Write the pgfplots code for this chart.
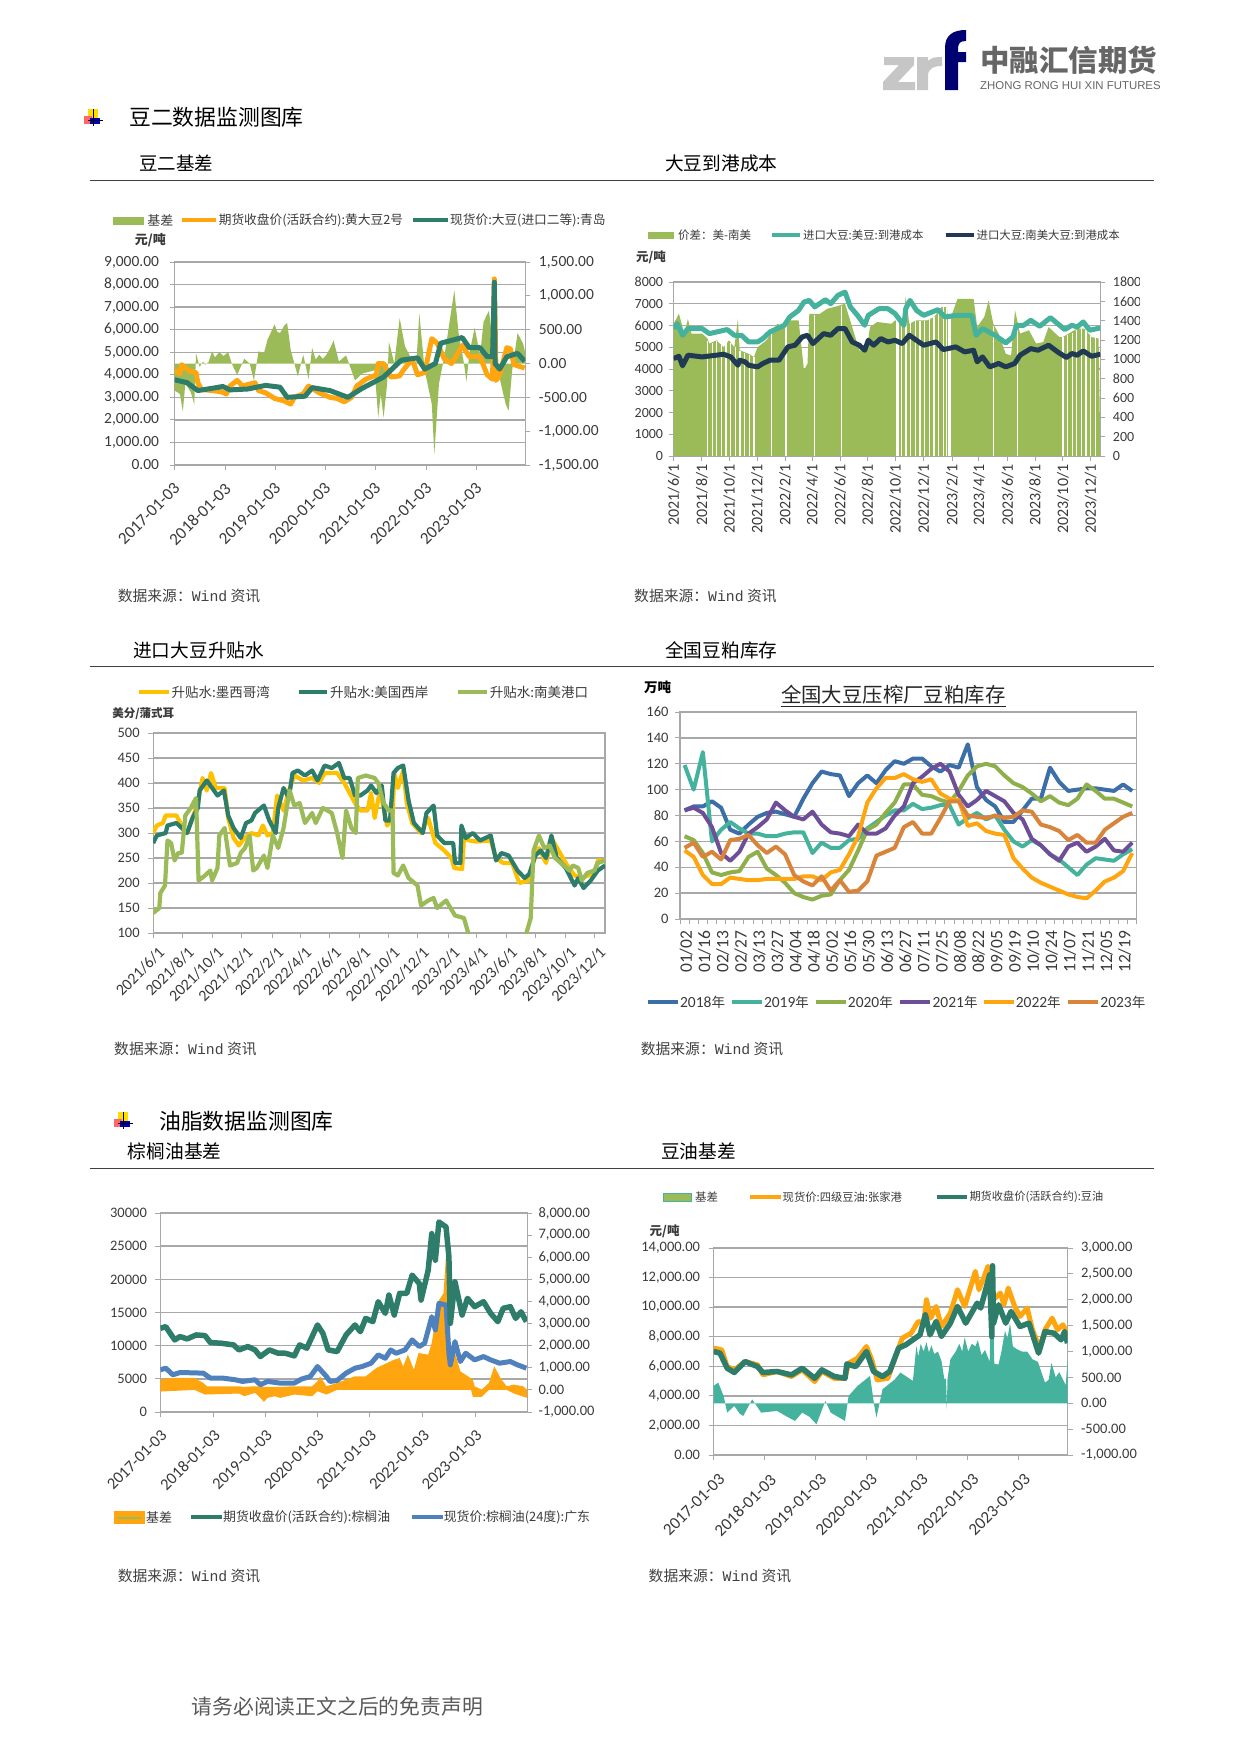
\documentclass[border=0pt]{standalone}
\usepackage{fontspec}
\usepackage{pgfplots}
\pgfplotsset{compat=1.18}
\setmainfont{Noto Sans CJK SC}
\newfontfamily\lat{Carlito}
\newfontfamily\mono{Liberation Mono}
\newfontfamily\arial{Liberation Sans}
\newcommand\fs[1]{\fontsize{#1}{#1}\selectfont}
\definecolor{gridc}{HTML}{A8A8A8}
\definecolor{txt}{HTML}{3A3A3A}
\definecolor{olive}{HTML}{9BBB59}
\definecolor{org}{HTML}{FFA50F}
\definecolor{teal2}{HTML}{2E7D6B}
\definecolor{mint}{HTML}{45B29D}
\definecolor{navy2}{HTML}{1F3A52}
\definecolor{amber}{HTML}{FFC000}
\definecolor{blue2}{HTML}{4F81BD}
\definecolor{sblue}{HTML}{3C6EA8}
\definecolor{purp}{HTML}{6F4E98}
\definecolor{brown2}{HTML}{D9843B}
\definecolor{olive2}{HTML}{8FAF4B}
\pgfplotsset{
 base/.style={scale only axis,anchor=north west,clip=true,tick align=outside,
  major tick length=5pt,minor tick length=5pt,
  axis line style={draw=gridc,line width=1.2pt},
  every tick/.append style={draw=gridc,line width=1pt},
  tick label style={text=txt},
  /pgf/number format/1000 sep={},/pgf/number format/assume math mode=true,
  scaled ticks=false},
 gridded/.style={base,ymajorgrids,grid style={draw=gridc,line width=1.4pt},xtick pos=lower,ytick pos=left},
 rightax/.style={base,hide x axis,axis y line*=right},
 hid/.style={base,hide axis},
 L/.style={line width=#1pt,line join=round,forget plot},
 yr/.style={xtick={#1},xticklabels={2017-01-03,2018-01-03,2019-01-03,2020-01-03,2021-01-03,2022-01-03,2023-01-03}},
}
\begin{document}
\begin{tikzpicture}
\path[use as bounding box] (0,0) rectangle (1241pt,-1754pt);

% ---------- chart 1
\begin{axis}[gridded,at={(174.6pt,-262pt)},width=350.8pt,height=203pt,xmin=265,xmax=1247,ymin=0,ymax=9000,
 yr={265,407,547,687,827,970,1110},
 xticklabel style={rotate=45,anchor=north east,xshift=-6pt,yshift=-3.7pt,font=\lat\fs{17}},
 yticklabel style={font=\lat\fs{15.5},xshift=-7pt},
 ytick={0,1000,...,9000},yticklabels={0.00,{1,000.00},{2,000.00},{3,000.00},{4,000.00},{5,000.00},{6,000.00},{7,000.00},{8,000.00},{9,000.00}}]
\end{axis}
\begin{axis}[rightax,at={(174.6pt,-262pt)},width=350.8pt,height=203pt,xmin=265,xmax=1247,ymin=-1500,ymax=1500,
 yticklabel style={font=\lat\fs{15.5},xshift=5pt},
 ytick={-1500,-1000,-500,0,500,1000,1500},
 yticklabels={{-1,500.00},{-1,000.00},-500.00,0.00,500.00,{1,000.00},{1,500.00}}]
\addplot[fill=olive,draw=none] coordinates {(265,0)(265,-400)(280,-450)(288,-710)(295,-300)(310,-420)(320,-600)(325,150)(335,-50)(345,30)(350,-20)(360,20)(370,180)(378,90)(390,170)(402,110)(415,170)(425,0)(440,-170)(460,70)(475,0)(487,-250)(500,180)(515,150)(525,350)(545,580)(552,470)(560,450)(572,560)(580,600)(590,200)(610,-190)(625,130)(640,-230)(650,230)(660,60)(670,130)(680,70)(690,130)(700,220)(710,340)(725,30)(745,120)(770,-250)(790,-150)(825,-100)(835,-800)(842,-450)(850,-800)(860,-300)(865,320)(880,0)(895,670)(910,250)(925,100)(940,-150)(950,740)(965,-100)(985,-600)(992,-1340)(1005,-300)(1020,100)(1040,800)(1048,1080)(1060,450)(1075,0)(1082,-270)(1090,150)(1105,530)(1120,120)(1130,620)(1145,780)(1158,200)(1170,-100)(1185,-450)(1192,-600)(1200,-700)(1210,-100)(1225,450)(1240,300)(1245,200)(1247,0)} --cycle;
\end{axis}
\begin{axis}[hid,at={(174.6pt,-262pt)},width=350.8pt,height=203pt,xmin=265,xmax=1247,ymin=0,ymax=9000]
\addplot[L=5,org] coordinates {(265,4200)(280,4050)(285,4450)(295,4300)(310,4150)(325,4100)(330,3650)(340,3350)(370,3300)(395,3250)(410,3150)(420,3500)(440,3750)(455,3500)(490,3650)(500,3300)(520,3200)(545,2950)(570,2850)(590,2700)(600,3000)(625,3150)(640,3500)(670,3200)(700,3000)(720,2950)(740,2800)(760,3000)(775,3500)(800,3800)(830,4000)(835,4500)(850,4500)(870,3900)(895,3950)(905,4200)(930,4700)(945,4000)(965,4100)(985,5600)(1000,5400)(1020,4700)(1040,4500)(1060,5000)(1070,5300)(1090,4800)(1120,4800)(1140,4000)(1155,3800)(1160,8250)(1165,3750)(1175,4000)(1195,5200)(1205,5150)(1215,4450)(1245,4300)};
\addplot[L=5,teal2] coordinates {(265,3780)(300,3650)(330,3300)(370,3400)(400,3480)(420,3330)(470,3370)(520,3530)(560,3450)(580,3000)(630,3050)(650,3430)(700,3300)(750,3000)(790,3400)(850,3900)(880,4350)(900,4650)(945,4750)(965,4250)(995,4500)(1010,5400)(1070,5650)(1090,5200)(1120,5200)(1140,4800)(1155,4800)(1160,8100)(1162,4500)(1175,4250)(1195,4800)(1225,4950)(1245,4600)};
\end{axis}

% ---------- chart 2
\begin{axis}[gridded,at={(673.6pt,-282pt)},width=426.8pt,height=174pt,xmin=150,xmax=1345,ymin=0,ymax=8000,
 xtick={150,229,306,384,462,538,616,693,771,850,930,1005,1085,1162,1240,1318},
 xticklabels={2021/6/1,2021/8/1,2021/10/1,2021/12/1,2022/2/1,2022/4/1,2022/6/1,2022/8/1,2022/10/1,2022/12/1,2023/2/1,2023/4/1,2023/6/1,2023/8/1,2023/10/1,2023/12/1},
 xticklabel style={rotate=90,anchor=east,font=\lat\fs{16}},
 yticklabel style={font=\lat\fs{14},xshift=-2pt},ytick={0,1000,...,8000}]
\addplot[fill=olive,draw=none] coordinates {(150,0)(150,6080)(165,6540)(180,5630)(190,6300)(200,5630)(230,5630)(245,5400)(250,5170)(270,5320)(290,5000)(305,5320)(320,5000)(330,6300)(335,4860)(360,4700)(375,4550)(385,5000)(410,5320)(440,6080)(460,5930)(470,6240)(500,6240)(515,3950)(525,4250)(530,6540)(560,6540)(580,6770)(600,6850)(630,7000)(650,5930)(670,4860)(690,4860)(700,5930)(720,6160)(760,6080)(770,6240)(790,6080)(800,7300)(810,6080)(830,6240)(860,6240)(880,6400)(900,6850)(915,6850)(920,6080)(940,7000)(945,7230)(990,7230)(1000,5930)(1020,6400)(1032,7150)(1045,6080)(1060,5630)(1080,4700)(1095,4620)(1106,6700)(1120,5630)(1145,5780)(1165,5170)(1185,5240)(1200,5930)(1230,5470)(1240,5470)(1280,5860)(1300,5860)(1320,5470)(1340,5400)(1345,0)} --cycle;
\addplot[ycomb,draw=white,line width=1.3pt,forget plot] coordinates {(245,5300)(258,5200)(271,5300)(284,5100)(297,5200)(310,5200)(323,5000)(336,4850)(349,4750)(362,4650)(375,4550)(425,5600)(465,6000)(545,6500)(620,6900)(788,6100)(801,6500)(814,6100)(827,6200)(840,6200)(853,6200)(866,6300)(879,6400)(892,6700)(905,6850)(915,6850)(1045,6000)(1112,6100)(1240,5450)(1253,5550)(1266,5650)(1279,5800)(1292,5850)(1305,5800)(1318,5500)(1331,5450)};
\addplot[ycomb,draw=white,line width=3.5pt,forget plot] coordinates {(777,6200)(923,6300)};
\end{axis}
\begin{axis}[rightax,at={(673.6pt,-282pt)},width=426.8pt,height=174pt,xmin=150,xmax=1345,ymin=0,ymax=1800,
 yticklabel style={font=\lat\fs{14},xshift=4pt},ytick={0,200,...,1800}]
\addplot[L=5,mint] coordinates {(150,1318)(160,1370)(175,1249)(190,1318)(230,1318)(250,1266)(300,1308)(320,1249)(340,1249)(360,1180)(385,1180)(400,1215)(420,1284)(460,1352)(475,1438)(500,1507)(515,1593)(530,1610)(545,1542)(575,1617)(590,1576)(610,1662)(630,1696)(645,1542)(665,1455)(685,1352)(695,1455)(725,1524)(750,1524)(770,1473)(785,1400)(795,1352)(800,1524)(812,1610)(830,1507)(850,1455)(890,1514)(910,1438)(940,1455)(985,1455)(997,1249)(1015,1318)(1050,1249)(1080,1170)(1100,1232)(1110,1352)(1130,1352)(1150,1404)(1175,1342)(1205,1431)(1225,1370)(1245,1308)(1265,1352)(1280,1335)(1297,1387)(1315,1301)(1345,1325)};
\addplot[L=5,navy2] coordinates {(150,1008)(165,1032)(175,933)(190,1043)(230,1025)(245,1032)(270,1043)(290,1053)(310,1025)(330,939)(335,991)(350,974)(360,939)(385,922)(400,957)(420,991)(445,991)(470,1129)(490,1146)(510,1232)(525,1249)(540,1163)(570,1266)(590,1249)(610,1318)(630,1318)(650,1180)(670,1146)(685,1094)(695,1197)(710,1146)(730,1215)(750,1180)(770,1197)(790,1163)(810,1249)(830,1197)(850,1146)(885,1180)(905,1101)(940,1129)(965,1077)(990,1094)(1000,974)(1015,1025)(1035,922)(1060,957)(1080,922)(1105,957)(1120,1043)(1150,1111)(1170,1094)(1200,1146)(1225,1077)(1250,1019)(1265,1060)(1280,1043)(1297,1087)(1320,1032)(1345,1053)};
\end{axis}

% ---------- chart 3
\begin{axis}[gridded,at={(153.2pt,-733pt)},width=451.8pt,height=200pt,xmin=205,xmax=1470,ymin=100,ymax=500,
 xtick={205,288,370,452,538,617,700,782,864,946,1032,1110,1193,1275,1358,1440},
 xticklabels={2021/6/1,2021/8/1,2021/10/1,2021/12/1,2022/2/1,2022/4/1,2022/6/1,2022/8/1,2022/10/1,2022/12/1,2023/2/1,2023/4/1,2023/6/1,2023/8/1,2023/10/1,2023/12/1},
 xticklabel style={rotate=45,anchor=north east,xshift=1pt,yshift=-5pt,font=\lat\fs{16}},
 yticklabel style={font=\lat\fs{14.5},xshift=-5pt},ytick={100,150,...,500}]
\addplot[L=4.2,amber] coordinates {(205,300)(215,315)(232,320)(240,335)(270,335)(285,315)(300,300)(315,330)(330,360)(343,410)(355,385)(367,420)(380,390)(405,390)(415,330)(430,290)(445,275)(460,290)(480,300)(500,295)(512,315)(525,295)(540,300)(552,375)(570,345)(585,385)(600,415)(625,405)(650,410)(670,400)(685,420)(720,420)(740,400)(755,380)(770,360)(785,345)(805,345)(815,380)(825,330)(840,385)(850,350)(860,315)(875,330)(880,420)(890,390)(905,425)(915,360)(930,320)(955,300)(975,330)(995,280)(1020,265)(1040,250)(1048,230)(1070,228)(1075,290)(1090,285)(1110,283)(1150,285)(1165,250)(1185,240)(1210,240)(1230,200)(1255,205)(1275,255)(1285,270)(1305,240)(1320,290)(1340,265)(1360,240)(1385,215)(1405,210)(1440,220)(1450,245)(1470,245)};
\addplot[L=4.2,teal2] coordinates {(205,280)(215,295)(240,300)(245,315)(270,320)(285,310)(300,300)(315,330)(330,350)(335,385)(355,405)(375,385)(385,375)(403,385)(415,335)(430,310)(450,290)(465,320)(480,325)(490,340)(515,355)(530,325)(548,300)(555,350)(570,390)(585,370)(595,420)(610,425)(630,415)(650,425)(665,405)(685,435)(705,430)(725,440)(740,410)(755,410)(770,375)(785,375)(805,385)(815,395)(830,380)(845,395)(855,325)(868,325)(878,420)(890,430)(905,435)(920,365)(935,320)(960,300)(970,340)(990,355)(1000,295)(1020,280)(1045,280)(1050,240)(1065,240)(1068,315)(1080,290)(1100,300)(1120,285)(1150,295)(1165,245)(1180,260)(1200,255)(1225,225)(1245,210)(1258,218)(1275,255)(1290,265)(1305,250)(1320,295)(1335,250)(1360,230)(1385,195)(1395,210)(1410,190)(1430,205)(1450,225)(1470,235)};
\addplot[L=4.2,olive] coordinates {(205,140)(222,150)(225,180)(238,195)(245,285)(255,280)(265,245)(275,260)(285,260)(295,335)(310,350)(325,370)(332,205)(350,215)(365,225)(370,205)(385,230)(390,295)(405,310)(420,235)(440,240)(450,260)(462,270)(475,295)(485,225)(495,230)(515,255)(525,230)(540,295)(555,270)(570,310)(587,385)(600,355)(615,360)(630,320)(650,340)(660,320)(680,350)(705,340)(720,300)(735,250)(745,345)(760,310)(772,300)(778,410)(800,415)(825,410)(835,400)(850,360)(865,345)(875,345)(878,220)(890,215)(905,235)(920,210)(945,195)(955,155)(975,165)(990,170)(1000,150)(1025,165)(1050,135)(1075,130)(1085,105)(1092,90)(1110,50)(1240,50)(1250,100)(1262,130)(1270,265)(1285,295)(1300,270)(1315,275)(1330,250)(1355,235)(1370,225)(1380,235)(1395,230)(1405,205)(1420,220)(1440,225)(1450,240)(1470,245)};
\end{axis}

% ---------- chart 4
\begin{axis}[gridded,at={(680pt,-712pt)},width=456.8pt,height=207pt,xmin=-0.5,xmax=49.5,ymin=0,ymax=160,
 xtick={-0.5,0.5,...,49.5},xticklabels={},
 extra x ticks={0,2,...,48},
 extra x tick labels={01/02,01/16,02/13,02/27,03/13,03/27,04/04,04/18,05/02,05/16,05/30,06/13,06/27,07/11,07/25,08/08,08/22,09/05,09/19,10/10,10/24,11/07,11/21,12/05,12/19},
 extra x tick style={major tick length=0pt,grid=none,xticklabel style={rotate=90,anchor=east,font=\lat\fs{17.5},xshift=-8pt,yshift=-1.5pt}},
 yticklabel style={font=\lat\fs{14.5},xshift=-3pt},ytick={0,20,...,160}]
\addplot[L=4,sblue] coordinates {(0,84)(1,87)(2,87)(3,91)(4,86)(5,69)(6,66)(7,73)(8,79)(9,82)(10,83)(11,81)(12,79)(13,93)(14,105)(15,114)(16,112)(17,111)(18,95)(19,105)(20,111)(21,105)(22,115)(23,122)(24,120)(25,124)(26,124)(27,118)(28,114)(29,119)(30,117)(31,135)(32,102)(33,92)(34,87)(35,75)(36,75)(37,84)(38,93)(39,93)(40,117)(41,106)(42,99)(43,100)(44,101)(45,101)(46,100)(47,99)(48,104)(49,99)};
\addplot[L=4,mint] coordinates {(0,119)(1,100)(2,129)(3,60)(4,69)(5,75)(6,70)(7,66)(8,66)(9,64)(10,64)(11,66)(12,67)(13,67)(14,51)(15,59)(16,55)(17,55)(18,61)(19,62)(20,70)(21,75)(22,80)(23,84)(24,84)(25,89)(26,85)(27,86)(28,88)(29,88)(30,73)(31,78)(32,82)(33,77)(34,80)(35,69)(36,60)(37,56)(38,61)(39,57)(40,50)(41,46)(42,40)(43,34)(44,42)(45,47)(46,46)(47,45)(48,50)(49,54)};
\addplot[L=4,olive2] coordinates {(0,64)(1,61)(2,51)(3,36)(4,34)(5,36)(6,37)(7,48)(8,52)(9,39)(10,34)(11,28)(12,20)(13,17)(14,15)(15,18)(16,19)(17,30)(18,38)(19,53)(20,69)(21,73)(22,82)(23,90)(24,104)(25,104)(26,96)(27,95)(28,92)(29,90)(30,99)(31,111)(32,118)(33,120)(34,118)(35,111)(36,105)(37,102)(38,97)(39,91)(40,95)(41,90)(42,88)(43,93)(44,104)(45,99)(46,93)(47,93)(48,90)(49,87)};
\addplot[L=4,purp] coordinates {(0,84)(1,86)(2,82)(3,71)(4,51)(5,45)(6,52)(7,66)(8,71)(9,77)(10,90)(11,84)(12,79)(13,77)(14,83)(15,73)(16,67)(17,66)(18,64)(19,73)(20,66)(21,66)(22,70)(23,80)(24,87)(25,105)(26,110)(27,116)(28,120)(29,114)(30,96)(31,87)(32,92)(33,99)(34,95)(35,91)(36,82)(37,77)(38,62)(39,57)(40,50)(41,45)(42,56)(43,59)(44,52)(45,56)(46,62)(47,53)(48,52)(49,59)};
\addplot[L=4,org] coordinates {(0,53)(1,48)(2,34)(3,27)(4,27)(5,32)(6,31)(7,30)(8,30)(9,31)(10,31)(11,31)(12,31)(13,33)(14,33)(15,30)(16,36)(17,38)(18,50)(19,64)(20,90)(21,101)(22,109)(23,109)(24,112)(25,108)(26,106)(27,108)(28,97)(29,93)(30,92)(31,72)(32,74)(33,68)(34,66)(35,65)(36,47)(37,39)(38,32)(39,28)(40,25)(41,22)(42,19)(43,17)(44,16)(45,22)(46,29)(47,32)(48,37)(49,51)};
\addplot[L=4,brown2] coordinates {(0,55)(1,59)(2,48)(3,52)(4,46)(5,61)(6,62)(7,65)(8,57)(9,51)(10,56)(11,50)(12,34)(13,29)(14,26)(15,33)(16,22)(17,30)(18,21)(19,22)(20,29)(21,49)(22,52)(23,55)(24,71)(25,75)(26,66)(27,66)(28,78)(29,91)(30,91)(31,80)(32,79)(33,78)(34,80)(35,78)(36,79)(37,84)(38,83)(39,73)(40,71)(41,68)(42,61)(43,65)(44,59)(45,59)(46,69)(47,74)(48,79)(49,82)};
\end{axis}

% ---------- chart 5
\begin{axis}[gridded,at={(160.4pt,-1213pt)},width=366.7pt,height=199pt,xmin=225,xmax=1252,ymin=0,ymax=30000,
 yr={225,373,520,665,812,960,1107},
 xticklabel style={rotate=45,anchor=north east,xshift=-5pt,yshift=-4.7pt,font=\lat\fs{16.5}},
 yticklabel style={font=\lat\fs{14.5},xshift=-5pt},ytick={0,5000,...,30000}]
\end{axis}
\begin{axis}[rightax,at={(160.4pt,-1213pt)},width=366.7pt,height=199pt,xmin=225,xmax=1252,ymin=-1000,ymax=8000,
 yticklabel style={font=\lat\fs{14.5},xshift=3pt},ytick={-1000,0,...,8000},
 yticklabels={{-1,000.00},0.00,{1,000.00},{2,000.00},{3,000.00},{4,000.00},{5,000.00},{6,000.00},{7,000.00},{8,000.00}}]
\addplot[fill=org,draw=none] coordinates {(225,466)(255,541)(320,541)(345,316)(355,165)(385,165)(445,165)(460,135)(490,165)(515,135)(545,135)(560,135)(600,165)(650,165)(665,391)(672,616)(690,165)(720,316)(770,616)(800,616)(830,992)(880,1368)(895,1440)(905,1067)(918,1593)(935,917)(948,1668)(975,1593)(985,2119)(1003,3998)(1018,4374)(1028,6854)(1032,6027)(1037,1217)(1050,1668)(1065,842)(1100,466)(1105,165)(1125,15)(1145,316)(1160,1067)(1180,466)(1195,165)(1215,240)(1240,165)(1252,15)(1252,-361)(1215,-165)(1195,0)(1145,0)(1125,-315)(1100,-315)(1095,0)(720,0)(690,-210)(665,-60)(650,-286)(600,-210)(560,-361)(545,-286)(525,-361)(515,-541)(505,-361)(490,-135)(460,-286)(445,-165)(350,-210)(320,0)(225,-75)} --cycle;
\end{axis}
\begin{axis}[hid,at={(160.4pt,-1213pt)},width=366.7pt,height=199pt,xmin=225,xmax=1252,ymin=0,ymax=30000]
\addplot[L=5,blue2] coordinates {(225,6360)(240,6610)(260,5610)(280,5960)(345,5860)(365,5110)(400,5110)(435,4860)(455,4610)(490,4860)(505,4110)(525,4610)(560,4360)(600,4360)(620,4960)(645,5360)(665,6860)(690,5360)(700,4610)(720,4760)(745,5860)(770,6610)(790,6860)(815,7360)(835,8610)(855,8110)(870,9360)(885,8860)(910,9360)(930,10870)(950,9870)(965,10370)(985,14370)(995,12370)(1005,16380)(1025,16130)(1033,8860)(1037,7110)(1050,10620)(1065,7610)(1080,8860)(1105,7860)(1130,8360)(1150,7860)(1175,7360)(1205,7610)(1225,7110)(1250,6610)};
\addplot[L=5.5,teal2] coordinates {(225,12620)(240,12870)(265,10870)(280,11370)(300,11020)(325,11620)(350,11520)(365,10470)(395,10370)(430,10120)(445,9360)(470,9870)(490,9360)(505,8360)(530,9360)(555,8860)(575,8860)(600,8460)(615,10120)(635,9620)(665,13120)(680,11870)(695,9360)(720,9110)(745,11620)(770,13120)(785,12120)(800,14120)(820,13620)(835,16630)(855,14870)(865,17630)(880,14620)(895,17880)(915,17880)(930,20630)(950,19380)(955,16880)(975,21380)(985,26890)(995,22890)(1005,28650)(1025,27890)(1033,23390)(1037,13370)(1050,19630)(1070,14620)(1085,17130)(1105,15880)(1130,16630)(1150,14870)(1170,13620)(1185,15630)(1205,15880)(1220,14120)(1235,15110)(1250,13620)};
\end{axis}

% ---------- chart 6
\begin{axis}[gridded,at={(713.6pt,-1248pt)},width=353.9pt,height=207pt,xmin=262,xmax=1253,ymin=0,ymax=14000,
 yr={262,405,547,689,831,973,1117},
 xticklabel style={rotate=45,anchor=north east,xshift=-2.5pt,yshift=-8.7pt,font=\lat\fs{17}},
 yticklabel style={font=\lat\fs{14.5},xshift=-5pt},ytick={0,2000,...,14000},
 yticklabels={0.00,{2,000.00},{4,000.00},{6,000.00},{8,000.00},{10,000.00},{12,000.00},{14,000.00}}]
\end{axis}
\begin{axis}[rightax,at={(713.6pt,-1248pt)},width=353.9pt,height=207pt,xmin=262,xmax=1253,ymin=-1000,ymax=3000,
 yticklabel style={font=\lat\fs{14.5},xshift=5pt},ytick={-1000,-500,...,3000},
 yticklabels={{-1,000.00},-500.00,0.00,500.00,{1,000.00},{1,500.00},{2,000.00},{2,500.00},{3,000.00}}]
\addplot[fill=mint,draw=none] coordinates {(262,0)(262,335)(275,400)(290,142)(300,-181)(320,-52)(335,-200)(345,-245)(370,77)(395,-181)(440,-148)(465,-250)(490,-342)(510,-181)(530,-260)(550,-406)(575,45)(590,-181)(630,-342)(640,142)(665,335)(700,529)(712,-52)(718,-277)(735,271)(770,464)(785,593)(820,432)(830,1109)(835,900)(842,1150)(850,1000)(858,1180)(865,980)(872,1120)(880,950)(890,1000)(900,820)(908,470)(913,470)(915,-116)(917,470)(925,851)(940,1000)(950,1150)(958,1000)(965,1271)(975,1000)(985,1150)(995,1100)(1002,1220)(1012,930)(1022,1030)(1035,800)(1042,2657)(1048,760)(1060,750)(1068,1000)(1078,1400)(1085,1250)(1092,1550)(1100,1100)(1110,1050)(1125,1000)(1140,1000)(1155,850)(1170,800)(1190,400)(1200,450)(1208,780)(1220,500)(1230,600)(1248,350)(1253,820)(1253,0)} --cycle;
\end{axis}
\begin{axis}[hid,at={(713.6pt,-1248pt)},width=353.9pt,height=207pt,xmin=262,xmax=1253,ymin=0,ymax=14000]
\addplot[L=5,org] coordinates {(262,7230)(285,7110)(300,5980)(320,5760)(350,6320)(385,6100)(400,5420)(440,5650)(480,5310)(510,5760)(545,4970)(565,5650)(600,5190)(630,5190)(640,6210)(665,6550)(690,7340)(705,6440)(720,5080)(750,5190)(775,6890)(790,7900)(815,8240)(835,9030)(850,8920)(858,10500)(870,9260)(885,10050)(900,8690)(925,9600)(945,11180)(965,10050)(995,12420)(1005,11180)(1020,12080)(1030,12760)(1045,10500)(1065,10950)(1075,10160)(1087,11290)(1105,10050)(1120,9370)(1140,9940)(1155,8470)(1175,7230)(1190,8470)(1210,9260)(1225,8470)(1240,8810)(1253,8240)};
\addplot[L=5.5,teal2] coordinates {(262,7000)(280,6890)(300,5870)(320,5580)(350,6320)(385,5980)(400,5580)(440,5650)(480,5420)(510,5870)(545,5190)(565,5760)(600,5310)(630,5190)(635,6160)(660,5980)(690,7000)(710,5650)(735,5310)(755,5650)(780,7230)(800,7450)(820,7790)(840,8130)(855,9480)(868,8130)(885,9030)(900,8020)(925,8920)(945,10050)(968,8920)(1000,10270)(1010,9940)(1035,12190)(1041,8000)(1043,12800)(1046,8920)(1060,10160)(1080,8920)(1095,9710)(1120,8690)(1145,8920)(1172,6890)(1190,8350)(1215,8240)(1235,7790)(1245,8350)(1253,7560)};
\end{axis}

\begin{scope}[x=1pt,y=-1pt]
% clip of the right tick labels of chart 2
\fill[white] (1139.5,270) rectangle (1160,400);
% logo
\fill[gray!45] (884,57)--(914,57)--(914,65)--(898,82)--(915,82)--(915,90)--(883,90)--(883,82)--(899,65)--(884,65)--cycle;
\fill[gray!45] (917,90)--(917,57)--(928,57)--(928,61) .. controls (932,57) and (937,57) .. (942,57)--(942,66) .. controls (934,66) and (928,68) .. (928,76)--(928,90)--cycle;
\fill[blue!45!black] (945,90)--(945,48) .. controls (945,35) and (953,30) .. (966,30)--(966,41) .. controls (960,41) and (958,43) .. (958,50)--(958,52)--(966,52)--(966,62)--(958,62)--(958,90)--cycle;
\node[anchor=west,inner sep=0,text=black!60] at (980,60) {\fs{29.5}\bfseries 中融汇信期货};
\node[anchor=west,inner sep=0,text=black!60] at (980,86) {\arial\fs{11.4}ZHONG RONG HUI XIN FUTURES};
% section headings
\foreach \dx/\dy in {0/0,30/1003}{
 \begin{scope}[shift={(\dx,\dy)}]
 \fill[yellow!80!orange] (88,109) rectangle (98,118);
 \fill[red!60!white] (84,116) rectangle (92,124);
 \fill[blue!75!black] (90,118) rectangle (100,124);
 \draw[black,line width=0.8pt] (93,109)--(93,126) (88,120.5)--(103,120.5);
 \end{scope}}
\node[anchor=west,inner sep=0] at (129,117.6) {\fs{21.8}豆二数据监测图库};
\node[anchor=west,inner sep=0] at (159,1121) {\fs{21.8}油脂数据监测图库};
% sub headings
\node[anchor=west,inner sep=0] at (139,163.5) {\fs{18.5}豆二基差};
\node[anchor=west,inner sep=0] at (665,163.5) {\fs{18.7}大豆到港成本};
\node[anchor=west,inner sep=0] at (133,650.7) {\fs{18.7}进口大豆升贴水};
\node[anchor=west,inner sep=0] at (665,650.7) {\fs{18.7}全国豆粕库存};
\node[anchor=west,inner sep=0] at (127.7,1151.4) {\fs{18.7}棕榈油基差};
\node[anchor=west,inner sep=0] at (661,1151.4) {\fs{18.7}豆油基差};
\draw[black!75,line width=0.8pt] (89.6,180.3)--(1153.6,180.3);
\draw[black!75,line width=0.8pt] (89.6,666.4)--(1153.6,666.4);
\draw[black!75,line width=0.8pt] (89.6,1168)--(1153.6,1168);
% source lines
\foreach \x/\y in {117.6/595.8,634/595.8,114/1049.4,640.6/1049.4,117.6/1575.8,648.5/1575.8}{
 \node[anchor=west,inner sep=0,text=black!75] at (\x,\y) {\fs{14.8}数据来源：{\mono Wind} 资讯};}
\node[anchor=west,inner sep=0,text=black!65] at (191.5,1707) {\fs{20.8}请务必阅读正文之后的免责声明};
% chart 1 legend
\fill[olive] (112.9,216.5) rectangle (144.3,224.5);
\node[anchor=west,inner sep=0,text=txt] at (147.1,220) {\fs{13}基差};
\draw[org,line width=3.8pt] (181.8,220)--(216.4,220);
\node[anchor=west,inner sep=0,text=txt] at (218.6,220) {\fs{12.7}期货收盘价(活跃合约):黄大豆2号};
\draw[teal2,line width=3.8pt] (412.9,220)--(447.9,220);
\node[anchor=west,inner sep=0,text=txt] at (450,220) {\fs{12.7}现货价:大豆(进口二等):青岛};
\node[anchor=center,inner sep=0,text=txt] at (150.4,240) {\fs{13}\bfseries 元/吨};
% chart 2 legend
\fill[olive] (647.5,232) rectangle (673.6,239);
\node[anchor=west,inner sep=0,text=txt] at (677.9,235) {\fs{11.5}价差：美-南美};
\draw[mint,line width=3.2pt] (771.8,235)--(800.4,235);
\node[anchor=west,inner sep=0,text=txt] at (802.9,235) {\fs{11.4}进口大豆:美豆:到港成本};
\draw[navy2,line width=3.2pt] (945.7,235)--(974.3,235);
\node[anchor=west,inner sep=0,text=txt] at (976.4,235) {\fs{11.4}进口大豆:南美大豆:到港成本};
\node[anchor=center,inner sep=0,text=txt] at (651,257) {\fs{12.5}\bfseries 元/吨};
% chart 3 legend
\draw[amber,line width=3.4pt] (138.9,692)--(168.6,692);
\node[anchor=west,inner sep=0,text=txt] at (171.4,692) {\fs{13.5}升贴水:墨西哥湾};
\draw[teal2,line width=3.4pt] (298.6,692)--(327,692);
\node[anchor=west,inner sep=0,text=txt] at (330,692) {\fs{13.5}升贴水:美国西岸};
\draw[olive,line width=3.4pt] (457.9,692)--(487,692);
\node[anchor=west,inner sep=0,text=txt] at (489.6,692) {\fs{13.5}升贴水:南美港口};
\node[anchor=west,inner sep=0,text=txt] at (112.1,714) {\fs{11.5}\bfseries 美分/蒲式耳};
% chart 4 title
\node[anchor=center,inner sep=0,text=black!85] at (893.2,695) {\fs{20.4}全国大豆压榨厂豆粕库存};
\draw[black!85,line width=0.8pt] (780.7,706.5)--(1005.7,706.5);
\node[anchor=center,inner sep=0] at (657.5,687) {\fs{13.5}\bfseries 万吨};
% chart 4 legend
\foreach \a/\c/\t in {647.9/sblue/2018,731.8/mint/2019,815.7/olive2/2020,900.4/purp/2021,983.6/org/2022,1068.2/brown2/2023}{
 \draw[\c,line width=3.4pt] (\a,1002)--(\a+30,1002);
 \node[anchor=west,inner sep=0,text=txt] at (\a+32,1002) {\fs{13.5}{\lat\fs{15.5}\t}年};}
% chart 5 legend
\fill[org] (113.9,1511) rectangle (145.4,1524);
\draw[olive,line width=2pt] (118,1517.5)--(141,1517.5);
\node[anchor=west,inner sep=0,text=txt] at (146,1517) {\fs{13}基差};
\draw[teal2,line width=3.8pt] (191.4,1517)--(222,1517);
\node[anchor=west,inner sep=0,text=txt] at (222.9,1517) {\fs{12.9}期货收盘价(活跃合约):棕榈油};
\draw[blue2,line width=3.8pt] (412,1517)--(442.5,1517);
\node[anchor=west,inner sep=0,text=txt] at (443.6,1517) {\fs{12.9}现货价:棕榈油(24度):广东};
% chart 6 legend
\filldraw[fill=olive,draw=mint,line width=0.8pt] (663.6,1193) rectangle (691.4,1201);
\node[anchor=west,inner sep=0,text=txt] at (695,1197) {\fs{11.5}基差};
\draw[org,line width=3.2pt] (750.4,1197)--(780.7,1197);
\node[anchor=west,inner sep=0,text=txt] at (782.5,1197) {\fs{11.3}现货价:四级豆油:张家港};
\draw[teal2,line width=3.8pt] (937,1197)--(967,1197);
\node[anchor=west,inner sep=0,text=txt] at (969.3,1197) {\fs{11.2}期货收盘价(活跃合约):豆油};
\node[anchor=center,inner sep=0,text=txt] at (664.6,1231) {\fs{12.5}\bfseries 元/吨};
\end{scope}
\end{tikzpicture}
\end{document}
